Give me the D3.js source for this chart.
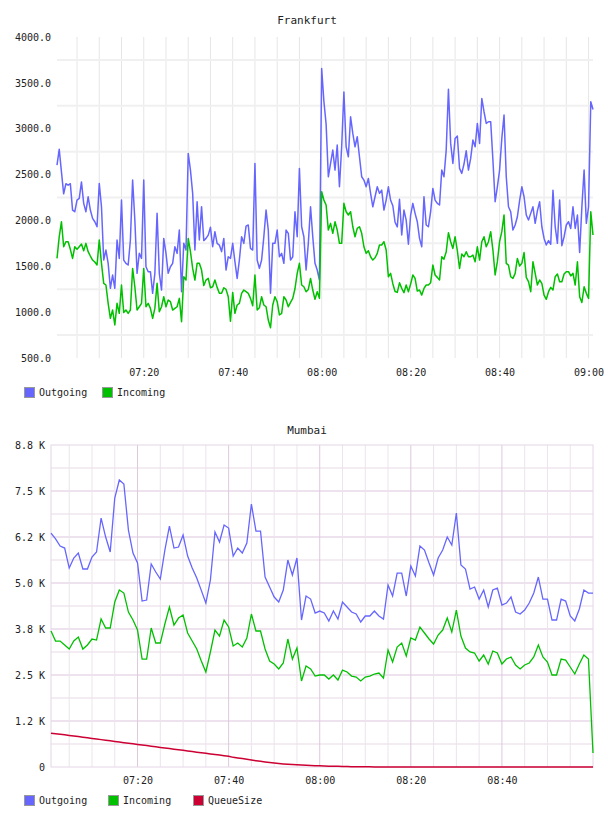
<!DOCTYPE html>
<html>
<head>
<meta charset="utf-8">
<script src="https://cdn.jsdelivr.net/npm/d3@7"></script>
<style>
  body { margin: 0; background: #fff; }
  text { font-family: "DejaVu Sans Mono", "Liberation Mono", monospace; fill: #222; }
</style>
</head>
<body>
<div id="chart"></div>
<script>
// Frankfurt: one sample every 30 s from 07:00:30
var fraStart = "07:00:30";
var fraStep = 30;
var fraOutgoing = [
  2604,2775,2530,2290,2400,2385,2400,2113,2095,2222,
  2240,2420,2186,2095,2258,2113,2022,1986,1931,2404,
  2149,1568,1677,1532,1260,1405,1260,1786,1586,2222,
  1568,1532,1514,1786,2440,2004,1423,1641,1586,2440,
  1495,1441,1441,1205,1423,2077,1423,1241,1804,1641,
  1423,1495,1532,1713,1641,1895,1223,1750,1677,2731,
  2549,2295,1677,2204,1786,2150,1780,1804,1840,1925,
  1713,1877,1750,1731,1660,1804,1459,1604,1586,1750,
  1550,1368,1568,1822,1750,1938,1950,1695,1677,2622,
  1568,1477,1568,1822,2113,1895,1205,1750,1750,1895,
  1604,1641,1532,1895,1859,1568,1604,2095,1822,2567,
  1931,1822,1459,1750,2149,1822,1532,1459,1350,3657,
  3300,3050,2476,2622,2767,2549,2822,2367,2803,3400,
  2803,2694,3130,2949,2803,2912,2694,2476,2440,2367,
  2458,2295,2149,2258,2367,2295,2331,2113,2222,2367,
  2220,2160,1980,1930,2230,1841,2113,2004,1740,2059,
  2186,2077,1986,1804,1713,2258,1950,1931,2095,2349,
  2222,2186,2168,2549,2476,2767,3430,2840,2622,2894,
  2920,2567,2513,2615,2760,2549,2676,2876,2803,3058,
  2840,3330,3185,3058,3076,3076,2658,2204,2367,2549,
  2894,3150,2476,2149,2095,1895,1950,2040,2215,2367,
  2258,2059,2004,2077,2149,1968,2104,2204,1931,1804,
  1732,1780,1740,2330,1930,1750,2222,1725,1822,1950,
  1986,1913,2149,1913,2059,1650,2150,2549,1968,2149,
  3294,3210
];
var fraIncoming = [
  1586,1822,1985,1713,1768,1768,1685,1586,1713,1685,
  1713,1742,1670,1750,1659,1612,1568,1546,1514,1786,
  1532,1314,1296,1096,932,1023,860,1096,987,1296,
  995,1023,987,1023,1477,1277,1023,1059,1096,1477,
  1059,1096,1041,932,1041,1314,1005,1059,1168,1059,
  1132,1114,1023,1041,1059,1150,896,1386,1350,1804,
  1659,1477,1350,1532,1532,1459,1290,1350,1368,1266,
  1277,1350,1270,1205,1205,1266,1248,1168,900,1215,
  987,1078,1096,1205,1241,1223,1205,1150,1070,1405,
  1023,1048,1168,1078,1059,914,830,1078,1168,1114,
  969,987,1168,1132,1059,1107,1150,1255,1423,1532,
  1296,1277,1223,1248,1368,1241,1140,1223,1150,2313,
  2222,2168,1895,1968,1859,1985,1895,1750,1750,2186,
  2095,2059,2095,1931,1822,1913,1931,1859,1713,1641,
  1670,1604,1568,1593,1641,1732,1732,1768,1677,1386,
  1423,1310,1225,1215,1320,1259,1212,1296,1223,1306,
  1405,1368,1230,1241,1186,1259,1296,1296,1321,1513,
  1405,1379,1350,1604,1578,1659,1866,1768,1695,1822,
  1670,1477,1634,1604,1659,1604,1604,1622,1550,1713,
  1568,1768,1822,1713,1768,1877,1677,1405,1550,1768,
  1877,2060,1532,1513,1386,1368,1423,1586,1503,1532,
  1650,1379,1332,1223,1550,1423,1296,1350,1314,1186,
  1140,1223,1270,1241,1386,1415,1332,1332,1415,1441,
  1441,1395,1423,1296,1550,1168,1105,1277,1205,1150,
  2095,1841
];
var fraYTicks = [500, 1000, 1500, 2000, 2500, 3000, 3500, 4000];
var fraYGrid = [750, 1250, 1750, 2250, 2750, 3250, 3750];
var fraXTicks = ["07:20", "07:40", "08:00", "08:20", "08:40", "09:00"];

// Mumbai: one sample every minute from 07:01
var mumStart = "07:01:00";
var mumStep = 60;
var mumOutgoing = [
  6358,6200,6004,5950,5407,5679,5814,5380,5380,5706,
  5841,6765,6249,5841,7309,7798,7689,6439,5814,5543,
  4510,4537,5516,5298,5108,5896,6548,5950,5977,6303,
  5733,5407,5135,4800,4456,5081,6385,6113,6575,6494,
  5733,5950,5814,6086,7146,6412,6412,5162,4891,4619,
  4483,4809,5624,5217,5679,3994,4646,4564,4184,4238,
  4184,3967,4238,4021,4483,4347,4211,4157,3940,4103,
  4103,4238,4103,4021,4945,4646,5271,5271,4646,5461,
  5190,6004,5896,5543,5217,5679,5896,6249,6032,6901,
  5488,5380,4836,4891,4564,4809,4347,4809,4863,4402,
  4456,4619,4211,4157,4265,4456,4727,5162,4564,4564,
  3994,3994,4564,4510,4103,3967,4293,4809,4727,4727
];
var mumIncoming = [
  3695,3423,3423,3315,3206,3423,3532,3206,3315,3478,
  3450,4021,3777,3777,4483,4809,4727,4211,3994,3722,
  2934,2934,3777,3369,3369,3886,4347,3858,4048,4130,
  3641,3423,3206,2880,2581,3125,3722,3559,3994,3804,
  3288,3369,3260,3505,4157,3695,3695,3206,2880,2798,
  2663,2826,3478,2934,3233,2337,2744,2663,2472,2500,
  2500,2391,2500,2364,2635,2581,2472,2445,2337,2445,
  2472,2527,2554,2418,3179,2853,3260,3369,3016,3505,
  3450,3804,3641,3478,3342,3586,3722,4048,3668,4265,
  3559,3233,3125,3097,2880,3043,2798,3152,3097,2798,
  2934,2989,2771,2663,2771,2826,2989,3315,2989,2853,
  2500,2500,2934,2907,2717,2527,2798,3043,2934,380
];
var mumQueue = [
  920,905,890,875,858,842,826,810,793,777,
  760,744,728,712,695,679,662,646,630,614,
  598,582,566,549,533,517,500,484,468,452,
  436,420,404,388,372,356,340,324,308,292,
  262,245,228,210,190,172,155,138,122,108,
  95,84,74,66,58,51,45,40,35,31,
  27,23,20,17,14,12,10,8,6,5,
  4,3,2,1,1,0,0,0,0,0,
  0,0,0,0,0,0,0,0,0,0,
  0,0,0,0,0,0,0,0,0,0,
  0,0,0,0,0,0,0,0,0,0,
  0,0,0,0,0,0,0,0,0,0
];
var mumYTicks = [0, 1250, 2500, 3750, 5000, 6250, 7500, 8750];
var mumYLabels = ["0", "1.2 K", "2.5 K", "3.8 K", "5.0 K", "6.2 K", "7.5 K", "8.8 K"];
var mumXTicks = ["07:20", "07:40", "08:00", "08:20", "08:40"];

var colOut = "#6666ff", colIn = "#00c000", colQueue = "#cc0033";

var parseT = d3.timeParse("%H:%M:%S");
var parseHM = d3.timeParse("%H:%M");

function times(start, step, n) {
  var t0 = parseT(start);
  return d3.range(n).map(function (i) { return d3.timeSecond.offset(t0, step * i); });
}

var svg = d3.select("#chart").append("svg").attr("width", 608).attr("height", 816);

// ---------------- Frankfurt ----------------
(function () {
  var t = times(fraStart, fraStep, fraOutgoing.length);
  var x = d3.scaleTime().domain([t[0], t[t.length - 1]]).range([57, 593]);
  var y = d3.scaleLinear().domain([500, 4000]).range([358, 37]);
  var g = svg.append("g");

  g.append("text").attr("x", 307).attr("y", 24).attr("text-anchor", "middle")
    .style("font-size", "11px").text("Frankfurt");

  var vgrid = d3.timeMinute.every(5).range(parseHM("07:05"), d3.timeSecond.offset(parseHM("09:00"), 1));
  g.selectAll(".vg").data(vgrid).enter().append("line")
    .attr("x1", function (d) { return x(d); }).attr("x2", function (d) { return x(d); })
    .attr("y1", y(4000)).attr("y2", y(500))
    .attr("stroke", "#e6e6e6").attr("stroke-width", 1);
  g.selectAll(".hg").data(fraYGrid).enter().append("line")
    .attr("x1", 57).attr("x2", 593)
    .attr("y1", function (d) { return y(d); }).attr("y2", function (d) { return y(d); })
    .attr("stroke", "#f0f0f0").attr("stroke-width", 2);

  var yAxis = g.append("g").attr("transform", "translate(51,0)")
    .call(d3.axisLeft(y).tickValues(fraYTicks).tickSize(0).tickPadding(0)
      .tickFormat(function (d) { return d.toFixed(1); }));
  yAxis.select(".domain").remove();
  yAxis.selectAll("text").style("font-size", "10px").style("font-family", "DejaVu Sans Mono");

  var xAxis = g.append("g").attr("transform", "translate(0,366)")
    .call(d3.axisBottom(x).tickValues(fraXTicks.map(parseHM)).tickSize(0).tickPadding(3)
      .tickFormat(d3.timeFormat("%H:%M")));
  xAxis.select(".domain").remove();
  xAxis.selectAll("text").style("font-size", "10px").style("font-family", "DejaVu Sans Mono");

  var line = function (vals) {
    return d3.line().x(function (d, i) { return x(t[i]); }).y(function (d) { return y(d); })(vals);
  };
  g.append("path").attr("d", line(fraOutgoing)).attr("fill", "none")
    .attr("stroke", colOut).attr("stroke-width", 1.5).attr("stroke-linejoin", "round");
  g.append("path").attr("d", line(fraIncoming)).attr("fill", "none")
    .attr("stroke", colIn).attr("stroke-width", 1.5).attr("stroke-linejoin", "round");

  legend(g, 387, [["Outgoing", colOut, 24], ["Incoming", colIn, 102]]);
})();

// ---------------- Mumbai ----------------
(function () {
  var t = times(mumStart, mumStep, mumOutgoing.length);
  var x = d3.scaleTime().domain([t[0], t[t.length - 1]]).range([51, 593]);
  var y = d3.scaleLinear().domain([0, 8750]).range([767, 445]);
  var g = svg.append("g");

  g.append("text").attr("x", 307).attr("y", 434).attr("text-anchor", "middle")
    .style("font-size", "11px").text("Mumbai");

  var hgrid = d3.range(625, 8750, 625);
  g.selectAll(".hg").data(hgrid).enter().append("line")
    .attr("x1", 51).attr("x2", 593)
    .attr("y1", function (d) { return y(d); }).attr("y2", function (d) { return y(d); })
    .attr("stroke", function (d) { return d % 1250 === 0 ? "#efe2ef" : "#f3ecf3"; })
    .attr("stroke-width", 2);

  var vgrid = d3.timeMinute.every(5).range(parseHM("07:05"), parseHM("09:00"));
  g.selectAll(".vg").data(vgrid).enter().append("line")
    .attr("x1", function (d) { return x(d); }).attr("x2", function (d) { return x(d); })
    .attr("y1", 445).attr("y2", 767)
    .attr("stroke", function (d) { return d.getMinutes() % 20 === 0 ? "#dccadc" : "#ece4ec"; })
    .attr("stroke-width", 1);

  g.append("rect").attr("x", 51).attr("y", 445).attr("width", 542).attr("height", 322)
    .attr("fill", "none").attr("stroke", "#e6d6e6").attr("stroke-width", 1);

  var yAxis = g.append("g").attr("transform", "translate(45,0)")
    .call(d3.axisLeft(y).tickValues(mumYTicks).tickSize(0).tickPadding(0)
      .tickFormat(function (d, i) { return mumYLabels[i]; }));
  yAxis.select(".domain").remove();
  yAxis.selectAll("text").style("font-size", "10px").style("font-family", "DejaVu Sans Mono");

  var xAxis = g.append("g").attr("transform", "translate(0,774)")
    .call(d3.axisBottom(x).tickValues(mumXTicks.map(parseHM)).tickSize(0).tickPadding(3)
      .tickFormat(d3.timeFormat("%H:%M")));
  xAxis.select(".domain").remove();
  xAxis.selectAll("text").style("font-size", "10px").style("font-family", "DejaVu Sans Mono");

  var line = function (vals) {
    return d3.line().x(function (d, i) { return x(t[i]); }).y(function (d) { return y(d); })(vals);
  };
  g.append("path").attr("d", line(mumOutgoing)).attr("fill", "none")
    .attr("stroke", colOut).attr("stroke-width", 1.3);
  g.append("path").attr("d", line(mumIncoming)).attr("fill", "none")
    .attr("stroke", colIn).attr("stroke-width", 1.3);
  g.append("path").attr("d", line(mumQueue)).attr("fill", "none")
    .attr("stroke", colQueue).attr("stroke-width", 1.5);

  legend(g, 795, [["Outgoing", colOut, 24], ["Incoming", colIn, 108], ["QueueSize", colQueue, 193]]);
})();

function legend(g, top, items) {
  var lg = g.selectAll(".lg" + top).data(items).enter().append("g")
    .attr("transform", function (d) { return "translate(" + d[2] + "," + top + ")"; });
  lg.append("rect").attr("x", 0.5).attr("y", 0.5).attr("width", 10).attr("height", 10)
    .attr("fill", function (d) { return d[1]; }).attr("stroke", "#999").attr("stroke-width", 1);
  lg.append("text").attr("x", 15).attr("y", 9).style("font-size", "10px")
    .text(function (d) { return d[0]; });
}
</script>
</body>
</html>
